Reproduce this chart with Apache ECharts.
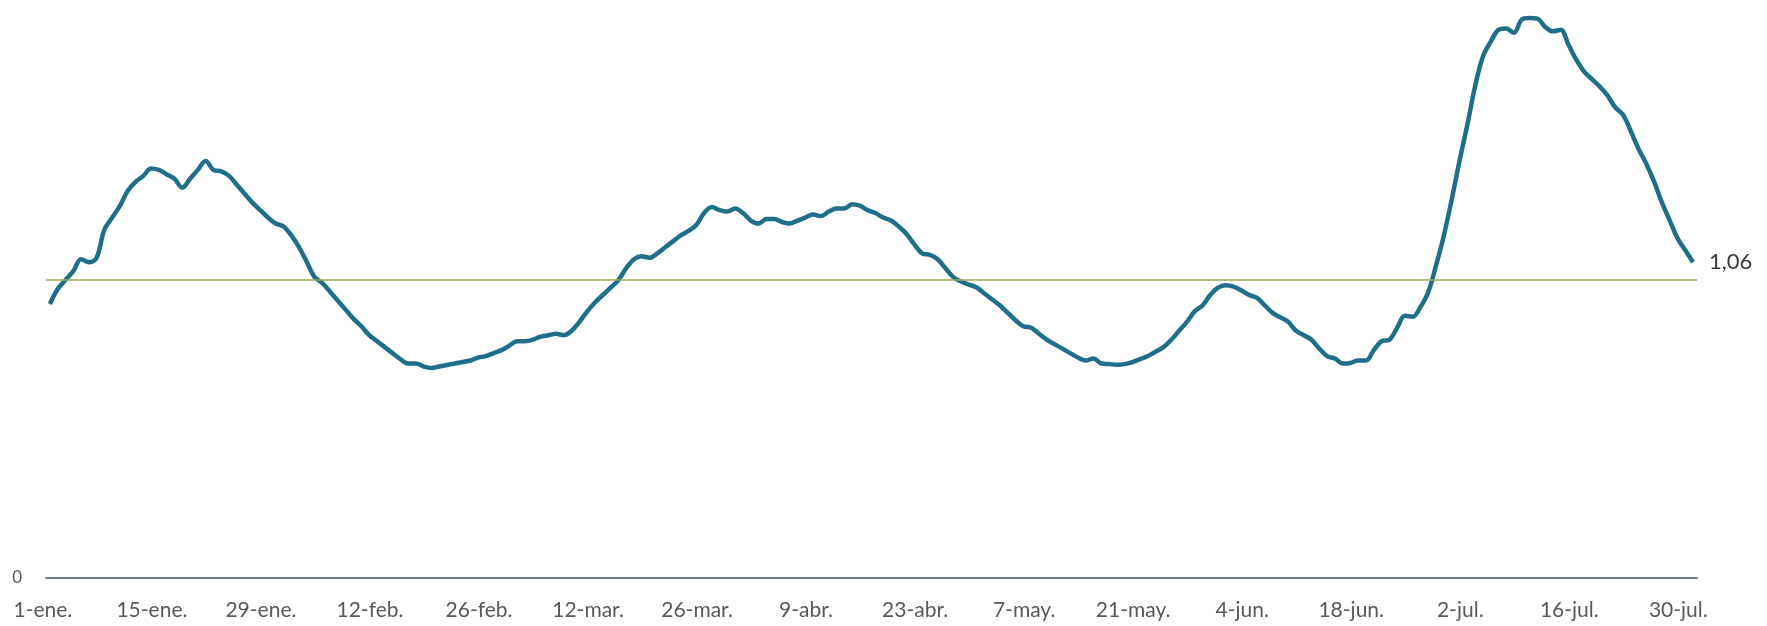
<!DOCTYPE html>
<html>
<head>
<meta charset="utf-8">
<script src="https://cdn.jsdelivr.net/npm/echarts@6/dist/echarts.min.js"></script>
<style>
  html, body { margin: 0; padding: 0; background: #ffffff; }
  #chart { width: 1767px; height: 626px; }
</style>
</head>
<body>
<div id="chart"></div>
<script>
// Daily values, 1 Jan 2021 to 31 Jul 2021
const values = [
  0.92, 0.97, 1.00, 1.03, 1.07, 1.06, 1.075, 1.17, 1.21, 1.25,
  1.30, 1.33, 1.35, 1.375, 1.37, 1.355, 1.34, 1.31, 1.34, 1.37,
  1.40, 1.37, 1.365, 1.35, 1.32, 1.29, 1.26, 1.235, 1.21, 1.19,
  1.18, 1.15, 1.11, 1.06, 1.01, 0.99, 0.96, 0.93, 0.90, 0.87,
  0.845, 0.815, 0.795, 0.775, 0.755, 0.735, 0.72, 0.72, 0.71, 0.705,
  0.71, 0.715, 0.72, 0.725, 0.73, 0.74, 0.745, 0.755, 0.765, 0.78,
  0.795, 0.795, 0.80, 0.81, 0.815, 0.82, 0.815, 0.83, 0.86, 0.895,
  0.925, 0.95, 0.975, 1.00, 1.04, 1.07, 1.08, 1.075, 1.09, 1.11,
  1.13, 1.15, 1.165, 1.185, 1.225, 1.245, 1.235, 1.23, 1.24, 1.225,
  1.20, 1.19, 1.205, 1.205, 1.195, 1.19, 1.20, 1.21, 1.22, 1.215,
  1.23, 1.24, 1.24, 1.255, 1.25, 1.235, 1.225, 1.21, 1.20, 1.18,
  1.155, 1.12, 1.09, 1.085, 1.07, 1.04, 1.01, 0.995, 0.985, 0.975,
  0.955, 0.935, 0.915, 0.89, 0.865, 0.845, 0.84, 0.82, 0.80, 0.785,
  0.77, 0.755, 0.74, 0.73, 0.737, 0.72, 0.718, 0.716, 0.718, 0.725,
  0.735, 0.745, 0.76, 0.775, 0.80, 0.83, 0.86, 0.895, 0.915, 0.95,
  0.975, 0.983, 0.978, 0.965, 0.95, 0.94, 0.915, 0.89, 0.875, 0.86,
  0.83, 0.815, 0.80, 0.77, 0.745, 0.737, 0.72, 0.722, 0.73, 0.73,
  0.765, 0.795, 0.80, 0.84, 0.88, 0.877, 0.91, 0.96, 1.05, 1.15,
  1.27, 1.40, 1.52, 1.65, 1.75, 1.80, 1.84, 1.845, 1.83, 1.875,
  1.88, 1.878, 1.85, 1.835, 1.84, 1.79, 1.74, 1.70, 1.675, 1.65,
  1.62, 1.58, 1.555, 1.50, 1.44, 1.39, 1.33, 1.26, 1.20, 1.14,
  1.10, 1.06
];

const monthNames = ['ene.', 'feb.', 'mar.', 'abr.', 'may.', 'jun.', 'jul.', 'ago.', 'sep.', 'oct.', 'nov.', 'dic.'];
const startDate = [2021, 0, 1];
const tickEvery = 14;
const referenceValue = 1;
const yLabels = ['0'];

const categories = values.map(function (_, i) {
  const d = new Date(Date.UTC(startDate[0], startDate[1], startDate[2] + i));
  return d.getUTCDate() + '-' + monthNames[d.getUTCMonth()];
});

const chart = echarts.init(document.getElementById('chart'), null, { renderer: 'canvas' });
chart.setOption({
  animation: false,
  backgroundColor: '#ffffff',
  grid: { left: 46, right: 70, top: 12, bottom: 48 },
  xAxis: {
    type: 'category',
    data: categories,
    boundaryGap: true,
    axisLine: { show: true, lineStyle: { color: '#6f7f8a', width: 2 } },
    axisTick: { show: false },
    axisLabel: {
      interval: tickEvery - 1,
      color: '#595959',
      fontFamily: 'Lato',
      fontSize: 21,
      margin: 22,
      padding: [0, 14, 0, 0]
    },
    splitLine: { show: false }
  },
  yAxis: {
    type: 'value',
    min: 0,
    max: 1.9,
    interval: 1,
    axisLine: { show: false },
    axisTick: { show: false },
    splitLine: { show: false },
    axisLabel: {
      color: '#595959',
      fontFamily: 'Lato',
      fontSize: 17,
      margin: 24,
      showMaxLabel: false,
      formatter: function (v) { return v === 0 ? yLabels[0] : ''; }
    }
  },
  series: [{
    type: 'line',
    data: values,
    showSymbol: false,
    smooth: 0.35,
    lineStyle: { color: '#1f6e8a', width: 4.5 },
    itemStyle: { color: '#1f6e8a' },
    endLabel: {
      show: true,
      distance: 16,
      color: '#3b3b3b',
      fontFamily: 'Lato',
      fontSize: 22,
      formatter: function (p) { return p.value.toFixed(2).replace('.', ','); }
    },
    markLine: {
      silent: true,
      symbol: ['none', 'none'],
      label: { show: false },
      lineStyle: { color: '#9aa85a', width: 1.5, type: 'solid' },
      data: [{ yAxis: referenceValue }]
    },
    z: 3
  }]
});
</script>
</body>
</html>
